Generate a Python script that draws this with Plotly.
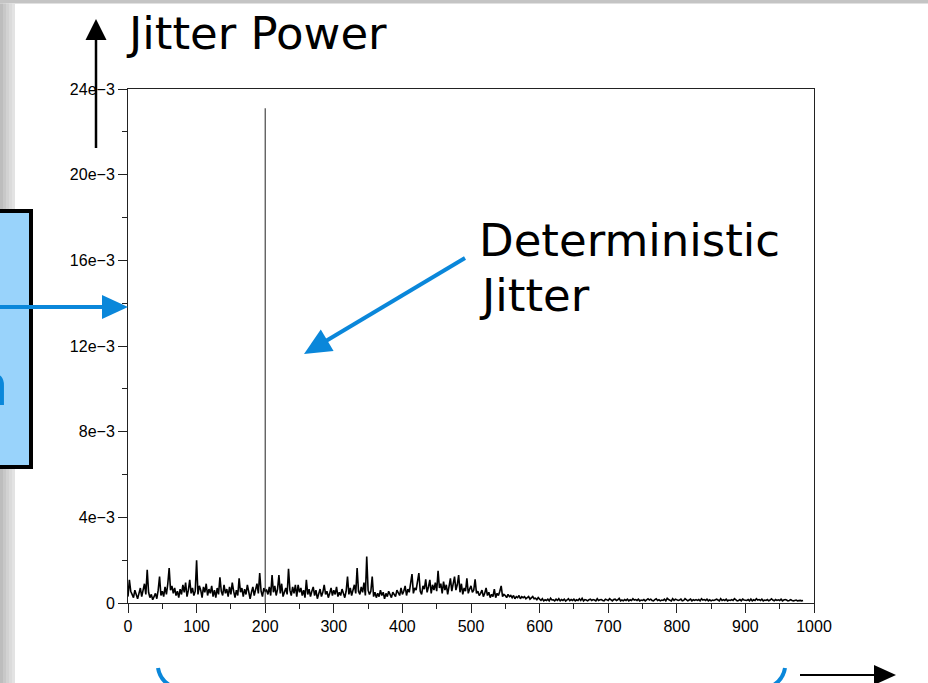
import plotly.graph_objects as go

# ---- spectrum data -------------------------------------------------------
# random-jitter floor in units of 1e-5, sampled every 2 frequency bins from 0
power_e5 = [
    30, 108, 55, 40, 25,   60, 35, 20, 45, 70,   30, 55, 90, 40, 155,
    50, 25, 40, 15, 30,    45, 20, 60, 123, 35,  55, 30, 75, 40, 90,
    163, 60, 80, 45, 70,   35, 55, 25, 65, 40,   85, 50, 95, 30, 60,
    108, 45, 70, 35, 55,   # 0-98
    200, 40, 80, 60, 25,   75, 50, 90, 35, 65,   45, 80, 30, 60, 25,
    70, 40, 120, 55, 35,   85, 45, 65, 30, 75,   40, 95, 55, 25, 60,
    35, 115, 50, 70, 30,   65, 40, 85, 55, 20,   50, 75, 35, 60, 90,
    45, 140, 55, 30, 70,   # 100-198
    55, 60, 40, 75, 35,    130, 50, 80, 35, 65,  130, 45, 90, 30, 55,
    70, 40, 160, 60, 35,   75, 45, 85, 30, 85,   50, 70, 35, 60, 25,
    108, 40, 65, 30, 55,   75, 35, 60, 20, 45,   65, 30, 50, 85, 40,
    55, 25, 45, 70, 35,    # 200-298
    60, 40, 75, 30, 50,    35, 65, 45, 25, 55,   123, 40, 70, 35, 60,
    85, 45, 163, 55, 40,   75, 50, 95, 35, 217,  60, 40, 55, 123, 30,
    50, 25, 45, 30, 60,    35, 50, 20, 45, 30,   55, 35, 25, 50, 40,
    30, 60, 45, 35, 70,    # 300-398
    40, 55, 80, 35, 65,    50, 85, 135, 45, 70,  60, 95, 140, 55, 40,
    80, 65, 110, 50, 75,   108, 45, 85, 60, 95,  55, 150, 70, 90, 45,
    100, 60, 85, 40, 75,   115, 55, 95, 123, 60, 85, 130, 50, 90, 40,
    70, 55, 115, 45, 65,   # 400-498
    80, 50, 60, 110, 45,   55, 35, 45, 60, 30,   45, 70, 35, 50, 25,
    40, 30, 65, 25, 45,    35, 55, 80, 30, 40,   35, 25, 40, 30, 35,
    25, 35, 20, 30, 25,    35, 20, 30, 25, 30,   20, 25, 30, 18, 25,
    30, 20, 22, 15, 25,    # 500-598
    18, 12, 20, 10, 15,    12, 18, 10, 22, 14,   15, 10, 18, 12, 20,
    10, 16, 12, 18, 9,     14, 20, 11, 16, 12,   18, 10, 15, 12, 20,
    12, 22, 10, 16, 14,    10, 15, 18, 12, 16,   14, 10, 20, 12, 15,
    16, 12, 10, 18, 14,    # 600-698
    12, 20, 14, 10, 16,    18, 12, 15, 22, 10,   14, 10, 16, 12, 18,
    10, 15, 12, 20, 14,    16, 12, 18, 10, 14,   12, 16, 10, 15, 20,
    14, 18, 12, 10, 16,    20, 12, 15, 10, 14,   12, 18, 10, 22, 16,
    14, 10, 20, 12, 18,    # 700-798
    16, 12, 14, 18, 10,    12, 20, 16, 10, 14,   18, 10, 15, 12, 16,
    12, 16, 10, 20, 14,    16, 12, 18, 10, 15,   10, 14, 12, 16, 18,
    14, 10, 20, 12, 16,    12, 18, 10, 14, 12,   16, 12, 20, 14, 10,
    12, 16, 10, 18, 14,    # 800-898
    14, 12, 16, 10, 18,    10, 15, 12, 20, 14,   16, 12, 18, 10, 14,
    12, 16, 10, 14, 20,    14, 10, 16, 12, 15,   12, 18, 10, 14, 16,
    14, 10, 12, 16, 12,    10, 12, 14, 10, 12,   12, 10, 12,  # 900-984
]
freq_step = 2
frequency = [i * freq_step for i in range(len(power_e5))]
power = [v * 1e-5 for v in power_e5]

# deterministic (periodic) jitter component
spur_freq = [200]
spur_power = [23.1e-3]

x_ticks = [0, 100, 200, 300, 400, 500, 600, 700, 800, 900, 1000]
x_minor = [50, 150, 250, 350, 450, 550, 650, 750, 850, 950]
y_ticks = [0, 4e-3, 8e-3, 12e-3, 16e-3, 20e-3, 24e-3]
y_tick_text = ["0", "4e\u22123", "8e\u22123", "12e\u22123", "16e\u22123", "20e\u22123", "24e\u22123"]
y_minor = [2e-3, 6e-3, 10e-3, 14e-3, 18e-3, 22e-3]

# ---- page geometry (pixels) ----------------------------------------------
W, H = 928, 683
L, R, T, B = 128, 814, 89, 603


def px(x):
    return (x - L) / (R - L)


def py(y):
    return (B - y) / (B - T)


BLUE = "#0a87da"
shapes = []

# slide frame: top band and shaded left edge
shapes.append(dict(type="rect", xref="paper", yref="paper", x0=px(0), x1=px(W), y0=py(0), y1=py(3.5),
                   fillcolor="#c4c4c4", line_width=0, layer="below"))
for i, c in enumerate(["#bdbdbd", "#c8c8c8", "#d2d2d2", "#dbdbdb", "#e3e3e3"]):
    shapes.append(dict(type="rect", xref="paper", yref="paper", x0=px(i * 3), x1=px(i * 3 + 3),
                       y0=py(3.5), y1=py(H), fillcolor=c, line_width=0, layer="below"))

# callout box on the left
shapes.append(dict(type="rect", xref="paper", yref="paper", x0=px(-10), x1=px(31), y0=py(211), y1=py(467),
                   fillcolor="#99d3fb", line=dict(color="black", width=4)))


def arrow(x0, y0, x1, y1, color, width, head_len, head_half):
    dx, dy = x1 - x0, y1 - y0
    n = (dx * dx + dy * dy) ** 0.5
    ux, uy = dx / n, dy / n
    bx, by = x1 - head_len * ux, y1 - head_len * uy
    nx, ny = -uy, ux
    shapes.append(dict(type="line", xref="paper", yref="paper", x0=px(x0), y0=py(y0),
                       x1=px(bx + 2 * ux), y1=py(by + 2 * uy), line=dict(color=color, width=width)))
    pts = [(x1, y1), (bx + head_half * nx, by + head_half * ny), (bx - head_half * nx, by - head_half * ny)]
    path = "M " + " L ".join(f"{px(a):.5f},{py(b):.5f}" for a, b in pts) + " Z"
    shapes.append(dict(type="path", xref="paper", yref="paper", path=path, fillcolor=color,
                       line=dict(color=color, width=0)))


arrow(-5, 307, 128, 307, BLUE, 4, 26, 12)          # from callout box to axis
arrow(96, 148, 96, 19, "black", 2.5, 21, 10.5)     # vertical axis arrow
arrow(800, 675, 896, 675, "black", 2, 22, 10)      # horizontal axis arrow
arrow(465, 258, 304, 354, BLUE, 4, 27, 12.5)       # deterministic jitter pointer


def qpath(p0, c, p1):
    return (f"M {px(p0[0]):.5f},{py(p0[1]):.5f} Q {px(c[0]):.5f},{py(c[1]):.5f} "
            f"{px(p1[0]):.5f},{py(p1[1]):.5f}")


# brace ends under the frequency axis
shapes.append(dict(type="path", xref="paper", yref="paper", path=qpath((158, 668), (160, 681), (173, 687)),
                   line=dict(color=BLUE, width=4)))
shapes.append(dict(type="path", xref="paper", yref="paper", path=qpath((785, 668), (783, 681), (770, 687)),
                   line=dict(color=BLUE, width=4)))

big_font = dict(family="DejaVu Sans", size=45, color="black")
annotations = [
    dict(text="Jitter Power", xref="paper", yref="paper", x=px(124), y=py(34), xanchor="left",
         yanchor="middle", showarrow=False, font=big_font),
    dict(text="Deterministic", xref="paper", yref="paper", x=px(477), y=py(241), xanchor="left",
         yanchor="middle", showarrow=False, font=big_font),
    dict(text="Jitter", xref="paper", yref="paper", x=px(477), y=py(295), xanchor="left",
         yanchor="middle", showarrow=False, font=big_font),
    dict(text="<b>n</b>", xref="paper", yref="paper", x=px(10), y=py(420), xanchor="right",
         yanchor="bottom", showarrow=False,
         font=dict(family="Liberation Sans", size=60, color=BLUE)),
]

fig = go.Figure()
fig.add_trace(go.Scatter(x=frequency, y=power, mode="lines",
                         line=dict(color="black", width=1.6), hoverinfo="skip", showlegend=False))
# the spur drawn as a single vertical stick from zero up to its power
for f, p in zip(spur_freq, spur_power):
    fig.add_trace(go.Scatter(x=[f, f], y=[0, p], mode="lines",
                             line=dict(color="#222", width=1), hoverinfo="skip", showlegend=False))

axis_common = dict(showgrid=False, zeroline=False, showline=True, linecolor="#222", linewidth=1,
                   mirror=True, ticks="outside", ticklen=9, tickwidth=1, tickcolor="#222",
                   tickfont=dict(family="Liberation Sans", size=16, color="black"), automargin=False)

fig.update_layout(
    width=W, height=H, autosize=False,
    margin=dict(l=L, r=W - R, t=T, b=H - B, pad=0),
    paper_bgcolor="white", plot_bgcolor="white",
    xaxis=dict(range=[0, 1000], tickmode="array", tickvals=x_ticks, ticktext=[str(v) for v in x_ticks],
               minor=dict(tickmode="array", tickvals=x_minor, ticklen=5, ticks="outside", tickcolor="#222"),
               **axis_common),
    yaxis=dict(range=[0, 0.024], tickmode="array", tickvals=y_ticks, ticktext=y_tick_text,
               minor=dict(tickmode="array", tickvals=y_minor, ticklen=5, ticks="outside", tickcolor="#222"),
               **axis_common),
    shapes=shapes,
    annotations=annotations,
)

fig.write_html("out.html")
